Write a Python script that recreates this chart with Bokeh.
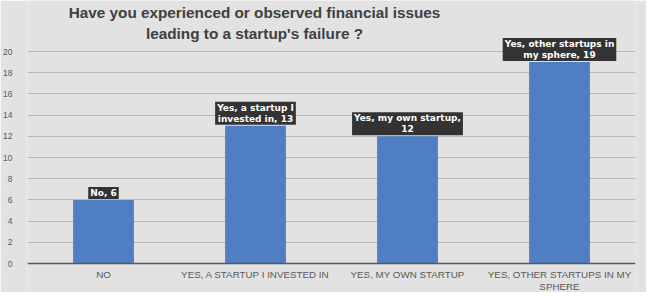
from bokeh.plotting import figure
from bokeh.models import ColumnDataSource, FactorRange, Range1d, Label, FixedTicker, Span
from bokeh.core.properties import value
from bokeh.embed import file_html
from bokeh.resources import INLINE

categories = ["NO", "YES, A STARTUP I INVESTED IN", "YES, MY OWN STARTUP",
              "YES, OTHER STARTUPS IN MY SPHERE"]
tick_labels = ["NO", "YES, A STARTUP I INVESTED IN", "YES, MY OWN STARTUP",
               "YES, OTHER STARTUPS IN MY\nSPHERE"]
values = [6, 13, 12, 19]
label_prefixes = ["No, ", "Yes, a startup I\ninvested in, ", "Yes, my own startup,\n",
                  "Yes, other startups in\nmy sphere, "]
y_ticks = [0, 2, 4, 6, 8, 10, 12, 14, 16, 18, 20]
title_lines = ["Have you experienced or observed financial issues",
               "leading to a startup's failure ?"]

data_labels = [p + str(v) for p, v in zip(label_prefixes, values)]
src = ColumnDataSource(dict(cat=categories, val=values, lab=data_labels,
                            tick=tick_labels, zero=[0] * len(values)))

FONT = "Liberation Sans"
BG = "#e2e2e2"
PX = 10.6  # pixels per unit of y

p = figure(x_range=FactorRange(*categories), y_range=Range1d(-29 / PX, 20 + 51 / PX),
           width=646, height=292, output_backend="svg", toolbar_location=None,
           min_border_left=27, min_border_right=11, min_border_top=0,
           min_border_bottom=0)
p.background_fill_color = BG
p.border_fill_color = BG
p.outline_line_color = None

p.ygrid.grid_line_color = "#b8b8b8"
p.ygrid.grid_line_width = 1
p.ygrid.ticker = FixedTicker(ticks=y_ticks[1:])
p.xgrid.grid_line_color = None

p.vbar(x="cat", top="val", width=0.4, source=src, fill_color="#4F7EC2",
       line_color=None)

p.text(x="cat", y="val", text="lab", source=src, text_align="center",
       text_baseline="bottom", text_color="white", text_font=value("DejaVu Sans"),
       text_font_style="bold", text_font_size="9px", text_line_height=1.1,
       background_fill_color="#333333",
       padding=dict(left=2, right=2, top=1, bottom=1), y_offset=-1)

# category labels under the axis line (multi-line capable)
p.text(x="cat", y="zero", text="tick", source=src, text_align="center",
       text_baseline="top", text_color="#595959", text_font=value(FONT),
       text_font_size="9.8px", text_line_height=1.1, y_offset=5)

p.add_layout(Span(location=0, dimension="width", line_color="#595959",
                  line_width=1.5))

p.xaxis.visible = False

p.yaxis.ticker = FixedTicker(ticks=y_ticks)
p.yaxis.axis_line_color = None
p.yaxis.major_tick_line_color = None
p.yaxis.minor_tick_line_color = None
p.yaxis.major_label_text_font = FONT
p.yaxis.major_label_text_font_size = "8.5px"
p.yaxis.major_label_text_color = "#595959"
p.yaxis.major_label_standoff = 9

for t, yy in zip(title_lines, [20 + 39 / PX, 20 + 18 / PX]):
    p.add_layout(Label(x=227, y=yy, x_units="screen", y_units="data", text=t,
                       text_align="center", text_baseline="middle",
                       text_font=FONT, text_font_style="bold",
                       text_font_size="15.3px", text_color="#404040"))

open("out.html", "w").write(file_html(p, INLINE))
